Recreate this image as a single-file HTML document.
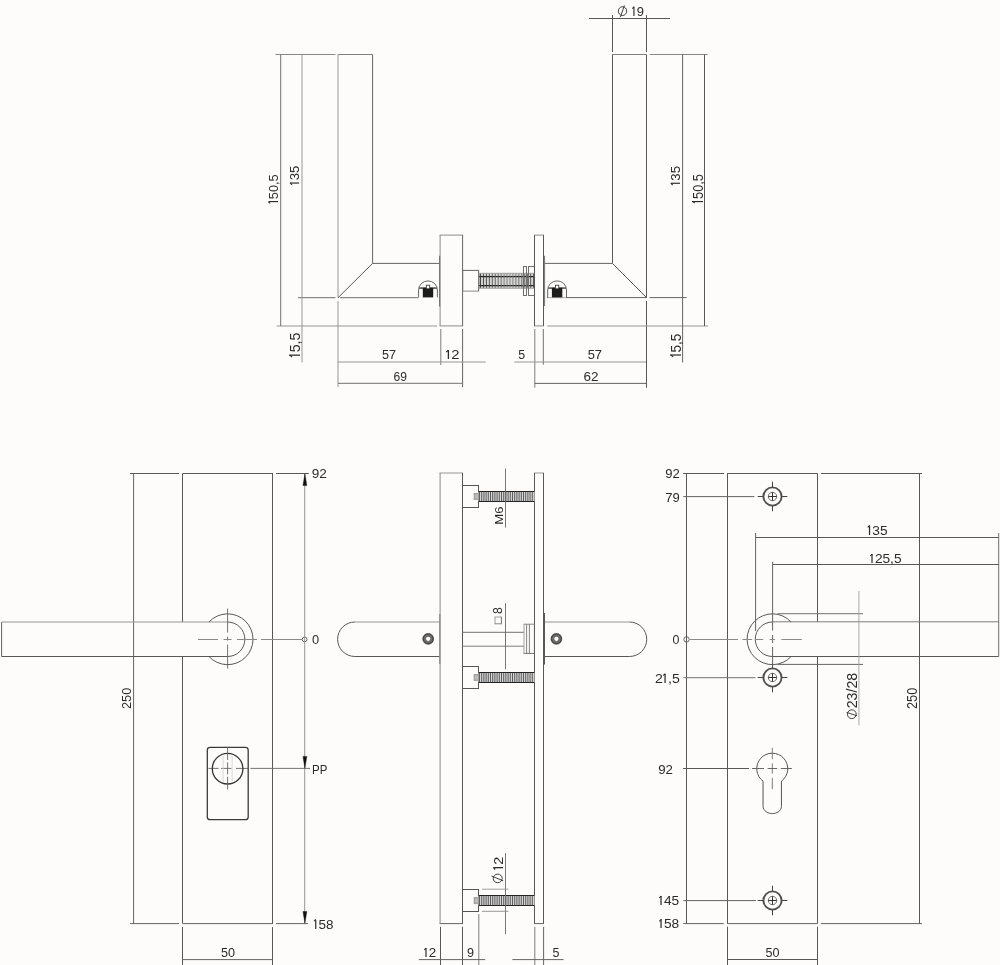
<!DOCTYPE html>
<html><head><meta charset="utf-8"><style>
html,body{margin:0;padding:0;background:#fdfcfa;}
svg{display:block;}
text{font-family:"Liberation Sans",sans-serif;}
svg{will-change:transform;}
</style></head><body>
<svg width="1000" height="965" viewBox="0 0 1000 965">
<rect x="0" y="0" width="1000" height="965" fill="#fdfcfa"/>
<g stroke-linecap="butt">
<line x1="275.5" y1="54.5" x2="335.5" y2="54.5" stroke="#888888" stroke-width="1"/>
<line x1="338" y1="54.5" x2="372.6" y2="54.5" stroke="#808080" stroke-width="1"/>
<line x1="338" y1="54.5" x2="338" y2="297.7" stroke="#979696" stroke-width="1"/>
<line x1="338" y1="301" x2="338" y2="387" stroke="#979696" stroke-width="1"/>
<line x1="372.6" y1="54.5" x2="372.6" y2="263.4" stroke="#656464" stroke-width="1"/>
<line x1="372.6" y1="263.4" x2="439.5" y2="263.4" stroke="#656464" stroke-width="1"/>
<line x1="338" y1="297.7" x2="372.6" y2="263.4" stroke="#585858" stroke-width="1"/>
<line x1="298" y1="297.7" x2="335.5" y2="297.7" stroke="#717171" stroke-width="1"/>
<line x1="340" y1="297.7" x2="418.5" y2="297.7" stroke="#717171" stroke-width="1"/>
<line x1="276.5" y1="326" x2="437" y2="326" stroke="#979696" stroke-width="1"/>
<line x1="280.7" y1="54.5" x2="280.7" y2="326" stroke="#717171" stroke-width="1"/>
<line x1="302" y1="54.5" x2="302" y2="362.4" stroke="#979696" stroke-width="1"/>
<line x1="439.6" y1="235.1" x2="463.1" y2="235.1" stroke="#8a8a89" stroke-width="1"/>
<line x1="439.6" y1="325.9" x2="463.1" y2="325.9" stroke="#8a8a89" stroke-width="1"/>
<line x1="440.1" y1="235.1" x2="440.1" y2="325.9" stroke="#8a8a89" stroke-width="1"/>
<line x1="462.6" y1="235.1" x2="462.6" y2="325.9" stroke="#656464" stroke-width="1"/>
<line x1="439.6" y1="255.8" x2="439.6" y2="306.5" stroke="#656464" stroke-width="0.9"/>
<line x1="440.8" y1="329" x2="440.8" y2="365" stroke="#7e7d7d" stroke-width="1"/>
<line x1="462.6" y1="329" x2="462.6" y2="387.2" stroke="#656464" stroke-width="1"/>
<line x1="338" y1="362" x2="485.7" y2="362" stroke="#979696" stroke-width="1"/>
<line x1="338" y1="383.3" x2="462.6" y2="383.3" stroke="#717171" stroke-width="1"/>
<line x1="462.2" y1="270.4" x2="479.1" y2="270.4" stroke="#656464" stroke-width="1"/>
<line x1="462.2" y1="291.1" x2="479.1" y2="291.1" stroke="#8a8a89" stroke-width="1"/>
<line x1="462.7" y1="270.4" x2="462.7" y2="291.1" stroke="#717171" stroke-width="1"/>
<line x1="478.6" y1="270.4" x2="478.6" y2="291.1" stroke="#656464" stroke-width="1"/>
<rect x="479.3" y="273.3" width="55.2" height="15" fill="#d6d6d6"/>
<line x1="478.85" y1="273.3" x2="534.95" y2="273.3" stroke="#9a9a99" stroke-width="0.9"/>
<line x1="478.85" y1="288.3" x2="534.95" y2="288.3" stroke="#9a9a99" stroke-width="0.9"/>
<line x1="479.3" y1="273.3" x2="479.3" y2="288.3" stroke="#9a9a99" stroke-width="0.9"/>
<line x1="534.5" y1="273.3" x2="534.5" y2="288.3" stroke="#888888" stroke-width="0.9"/>
<line x1="479.3" y1="276.6" x2="534.5" y2="276.6" stroke="#1e1e1e" stroke-width="1.1"/>
<line x1="479.3" y1="285.6" x2="534.5" y2="285.6" stroke="#1e1e1e" stroke-width="1.1"/>
<line x1="480.5" y1="273.8" x2="480.5" y2="287.8" stroke="#333333" stroke-width="0.9"/>
<line x1="483.45" y1="273.8" x2="483.45" y2="287.8" stroke="#3b3b3b" stroke-width="0.9"/>
<line x1="486.4" y1="273.8" x2="486.4" y2="287.8" stroke="#424242" stroke-width="0.9"/>
<line x1="489.35" y1="273.8" x2="489.35" y2="287.8" stroke="#4a4a4a" stroke-width="0.9"/>
<line x1="492.3" y1="273.8" x2="492.3" y2="287.8" stroke="#525251" stroke-width="0.9"/>
<line x1="495.25" y1="273.8" x2="495.25" y2="287.8" stroke="#595959" stroke-width="0.9"/>
<line x1="498.2" y1="273.8" x2="498.2" y2="287.8" stroke="#616160" stroke-width="0.9"/>
<line x1="501.15" y1="273.8" x2="501.15" y2="287.8" stroke="#696868" stroke-width="0.9"/>
<line x1="504.1" y1="273.8" x2="504.1" y2="287.8" stroke="#70706f" stroke-width="0.9"/>
<line x1="507.05" y1="273.8" x2="507.05" y2="287.8" stroke="#787877" stroke-width="0.9"/>
<line x1="510" y1="273.8" x2="510" y2="287.8" stroke="#807f7f" stroke-width="0.9"/>
<line x1="512.95" y1="273.8" x2="512.95" y2="287.8" stroke="#787877" stroke-width="0.9"/>
<line x1="515.9" y1="273.8" x2="515.9" y2="287.8" stroke="#70706f" stroke-width="0.9"/>
<line x1="518.85" y1="273.8" x2="518.85" y2="287.8" stroke="#696868" stroke-width="0.9"/>
<line x1="521.8" y1="273.8" x2="521.8" y2="287.8" stroke="#616160" stroke-width="0.9"/>
<line x1="524.75" y1="273.8" x2="524.75" y2="287.8" stroke="#595959" stroke-width="0.9"/>
<line x1="527.7" y1="273.8" x2="527.7" y2="287.8" stroke="#525251" stroke-width="0.9"/>
<line x1="530.65" y1="273.8" x2="530.65" y2="287.8" stroke="#4a4a4a" stroke-width="0.9"/>
<line x1="533.6" y1="273.8" x2="533.6" y2="287.8" stroke="#424242" stroke-width="0.9"/>
<line x1="523" y1="266.5" x2="527" y2="266.5" stroke="#707070" stroke-width="1"/>
<line x1="523" y1="295.5" x2="527" y2="295.5" stroke="#707070" stroke-width="1"/>
<line x1="523.5" y1="266.5" x2="523.5" y2="295.5" stroke="#707070" stroke-width="1"/>
<line x1="526.5" y1="266.5" x2="526.5" y2="295.5" stroke="#707070" stroke-width="1"/>
<line x1="528" y1="266.5" x2="535" y2="266.5" stroke="#707070" stroke-width="1"/>
<line x1="528" y1="295.5" x2="535" y2="295.5" stroke="#707070" stroke-width="1"/>
<line x1="528.5" y1="266.5" x2="528.5" y2="295.5" stroke="#707070" stroke-width="1"/>
<line x1="534.5" y1="266.5" x2="534.5" y2="295.5" stroke="#707070" stroke-width="1"/>
<line x1="534" y1="235.1" x2="544" y2="235.1" stroke="#8a8a89" stroke-width="1"/>
<line x1="534" y1="325.9" x2="544" y2="325.9" stroke="#8a8a89" stroke-width="1"/>
<line x1="534.5" y1="235.1" x2="534.5" y2="325.9" stroke="#585858" stroke-width="1"/>
<line x1="543.5" y1="235.1" x2="543.5" y2="325.9" stroke="#585858" stroke-width="1"/>
<line x1="544.6" y1="255.8" x2="544.6" y2="306" stroke="#656464" stroke-width="0.9"/>
<line x1="534.8" y1="329" x2="534.8" y2="387.8" stroke="#7e7d7d" stroke-width="1"/>
<line x1="543.3" y1="329" x2="543.3" y2="364.7" stroke="#717171" stroke-width="1"/>
<line x1="514.3" y1="362" x2="646.3" y2="362" stroke="#979696" stroke-width="1"/>
<line x1="534.8" y1="383.4" x2="646.3" y2="383.4" stroke="#656464" stroke-width="1"/>
<line x1="612.5" y1="15" x2="612.5" y2="52" stroke="#585858" stroke-width="1"/>
<line x1="612.5" y1="54.4" x2="612.5" y2="263.4" stroke="#585858" stroke-width="1"/>
<line x1="646.5" y1="15" x2="646.5" y2="52" stroke="#585858" stroke-width="1"/>
<line x1="646.5" y1="54.4" x2="646.5" y2="297.6" stroke="#585858" stroke-width="1"/>
<line x1="646.5" y1="301" x2="646.5" y2="387.8" stroke="#585858" stroke-width="1"/>
<line x1="612.5" y1="54.5" x2="646.5" y2="54.5" stroke="#808080" stroke-width="1"/>
<line x1="649.8" y1="54.5" x2="707.7" y2="54.5" stroke="#888888" stroke-width="1"/>
<line x1="544.7" y1="263.4" x2="612.5" y2="263.4" stroke="#656464" stroke-width="1"/>
<line x1="612.5" y1="263.4" x2="646.5" y2="297.6" stroke="#585858" stroke-width="1"/>
<line x1="547" y1="297.6" x2="646.5" y2="297.6" stroke="#656464" stroke-width="1"/>
<line x1="649.6" y1="297.6" x2="686.6" y2="297.6" stroke="#656464" stroke-width="1"/>
<line x1="547.3" y1="326" x2="708" y2="326" stroke="#979696" stroke-width="1"/>
<line x1="682.6" y1="54.4" x2="682.6" y2="362.5" stroke="#656464" stroke-width="1"/>
<line x1="704.5" y1="54.4" x2="704.5" y2="326" stroke="#585858" stroke-width="1"/>
<line x1="589" y1="18.5" x2="670" y2="18.5" stroke="#585858" stroke-width="1"/>
<path d="M418.6,297.4 L418.6,289.9 A9.4,9 0 0 1 437.4,289.9 L437.4,297.4" fill="#fdfcfa" stroke="#555" stroke-width="0.9"/>
<rect x="419.1" y="287.2" width="17.8" height="1.8" fill="#6a6a6a"/>
<rect x="422.8" y="287.8" width="10.4" height="9.6" fill="#1c1c1c"/>
<rect x="426.3" y="285.2" width="3.4" height="3.6" fill="#fff" stroke="#333" stroke-width="0.8"/>
<path d="M547.7,297.4 L547.7,289.9 A9.4,9 0 0 1 566.5,289.9 L566.5,297.4" fill="#fdfcfa" stroke="#555" stroke-width="0.9"/>
<rect x="548.2" y="287.2" width="17.8" height="1.8" fill="#6a6a6a"/>
<rect x="551.9" y="287.8" width="10.4" height="9.6" fill="#1c1c1c"/>
<rect x="555.4" y="285.2" width="3.4" height="3.6" fill="#fff" stroke="#333" stroke-width="0.8"/>
<g transform="translate(277.8,203.12) rotate(-90) scale(0.1276,0.1357)"><text font-size="100" fill="#2b2b2b"><tspan dx="0">l</tspan><tspan dx="9">5</tspan>0,5</text><path d="M12.0,-71 L-2.0,-56" stroke="#2b2b2b" stroke-width="8" fill="none"/></g>
<g transform="translate(299.2,184.5) rotate(-90) scale(0.1326,0.1286)"><text font-size="100" fill="#2b2b2b"><tspan dx="0">l</tspan><tspan dx="9">3</tspan>5</text><path d="M12.0,-71 L-2.0,-56" stroke="#2b2b2b" stroke-width="8" fill="none"/></g>
<ellipse cx="622.5" cy="11.1" rx="4.2" ry="4.4" fill="none" stroke="#2b2b2b" stroke-width="0.9"/>
<line x1="620.4" y1="17.2" x2="624.4" y2="5.4" stroke="#2b2b2b" stroke-width="0.9"/>
<g transform="translate(632.59,15.8) scale(0.1294,0.1286)"><text font-size="100" fill="#2b2b2b"><tspan dx="0">l</tspan><tspan dx="9">9</tspan></text><path d="M12.0,-71 L-2.0,-56" stroke="#2b2b2b" stroke-width="8" fill="none"/></g>
<g transform="translate(680.2,184.8) rotate(-90) scale(0.1333,0.1329)"><text font-size="100" fill="#2b2b2b"><tspan dx="0">l</tspan><tspan dx="9">3</tspan>5</text><path d="M12.0,-71 L-2.0,-56" stroke="#2b2b2b" stroke-width="8" fill="none"/></g>
<g transform="translate(702.6,202.92) rotate(-90) scale(0.1280,0.1400)"><text font-size="100" fill="#2b2b2b"><tspan dx="0">l</tspan><tspan dx="9">5</tspan>0,5</text><path d="M12.0,-71 L-2.0,-56" stroke="#2b2b2b" stroke-width="8" fill="none"/></g>
<g transform="translate(299.8,356.77) rotate(-90) scale(0.1420,0.1400)"><text font-size="100" fill="#2b2b2b"><tspan dx="0">l</tspan><tspan dx="9">5</tspan>,5</text><path d="M12.0,-71 L-2.0,-56" stroke="#2b2b2b" stroke-width="8" fill="none"/></g>
<g transform="translate(382.1,359.2) scale(0.1255,0.1271)"><text font-size="100" fill="#2b2b2b">57</text></g>
<g transform="translate(446.64,359.2) scale(0.1482,0.1271)"><text font-size="100" fill="#2b2b2b"><tspan dx="0">l</tspan><tspan dx="9">2</tspan></text><path d="M12.0,-71 L-2.0,-56" stroke="#2b2b2b" stroke-width="8" fill="none"/></g>
<g transform="translate(393.6,380.6) scale(0.1208,0.1271)"><text font-size="100" fill="#2b2b2b">69</text></g>
<g transform="translate(518.31,358.9) scale(0.1234,0.1214)"><text font-size="100" fill="#2b2b2b">5</text></g>
<g transform="translate(587.68,358.9) scale(0.1294,0.1214)"><text font-size="100" fill="#2b2b2b">57</text></g>
<g transform="translate(583.53,380.6) scale(0.1347,0.1314)"><text font-size="100" fill="#2b2b2b">62</text></g>
<g transform="translate(680.8,356.6) rotate(-90) scale(0.1349,0.1371)"><text font-size="100" fill="#2b2b2b"><tspan dx="0">l</tspan><tspan dx="9">5</tspan>,5</text><path d="M12.0,-71 L-2.0,-56" stroke="#2b2b2b" stroke-width="8" fill="none"/></g>
<line x1="130" y1="473.5" x2="179" y2="473.5" stroke="#585858" stroke-width="1"/>
<line x1="182.7" y1="473.5" x2="273" y2="473.5" stroke="#585858" stroke-width="1"/>
<line x1="276" y1="473.5" x2="308.8" y2="473.5" stroke="#585858" stroke-width="1"/>
<line x1="130" y1="923.6" x2="179" y2="923.6" stroke="#656464" stroke-width="1"/>
<line x1="182.7" y1="923.6" x2="273" y2="923.6" stroke="#656464" stroke-width="1"/>
<line x1="276" y1="923.6" x2="308" y2="923.6" stroke="#656464" stroke-width="1"/>
<line x1="133.6" y1="473.5" x2="133.6" y2="923.6" stroke="#656464" stroke-width="1"/>
<line x1="182.5" y1="473.5" x2="182.5" y2="622" stroke="#585858" stroke-width="1"/>
<line x1="182.5" y1="656.5" x2="182.5" y2="923.6" stroke="#585858" stroke-width="1"/>
<line x1="182.5" y1="927" x2="182.5" y2="965" stroke="#585858" stroke-width="1"/>
<line x1="272.5" y1="473.5" x2="272.5" y2="923.6" stroke="#585858" stroke-width="1"/>
<line x1="272.5" y1="927" x2="272.5" y2="965" stroke="#585858" stroke-width="1"/>
<line x1="1.6" y1="622" x2="227.6" y2="622" stroke="#979696" stroke-width="1"/>
<line x1="1.6" y1="656.5" x2="227.6" y2="656.5" stroke="#585858" stroke-width="1"/>
<line x1="1.6" y1="622" x2="1.6" y2="656.5" stroke="#656464" stroke-width="1"/>
<path d="M227.6,622 A17.25,17.25 0 0 1 227.6,656.5" fill="none" stroke="#585858" stroke-width="1"/>
<path d="M208.96,622 A25.4,25.4 0 1 1 208.96,656.5" fill="none" stroke="#585858" stroke-width="1"/>
<line x1="227.6" y1="608.6" x2="227.6" y2="669.4" stroke="#656464" stroke-width="0.9" stroke-dasharray="24,4,4,4"/>
<line x1="198" y1="639.5" x2="218" y2="639.5" stroke="#8a8a8a" stroke-width="1"/>
<line x1="223.6" y1="639.5" x2="231.6" y2="639.5" stroke="#8a8a8a" stroke-width="1"/>
<line x1="237" y1="639.5" x2="257" y2="639.5" stroke="#8a8a8a" stroke-width="1"/>
<line x1="261" y1="639.5" x2="302" y2="639.5" stroke="#8a8a8a" stroke-width="1"/>
<circle cx="304.6" cy="639.4" r="2.4" fill="none" stroke="#585858" stroke-width="0.9"/>
<line x1="304.7" y1="473.5" x2="304.7" y2="923.6" stroke="#8b8b8b" stroke-width="0.9"/>
<path d="M304.9,473.8 L306.85,485.6 L302.95,485.6 Z" fill="#111" stroke="#111" stroke-width="0.4" stroke-linejoin="round"/>
<path d="M304.9,768.4 L306.85,756.4 L302.95,756.4 Z" fill="#111" stroke="#111" stroke-width="0.4" stroke-linejoin="round"/>
<path d="M304.9,923.3 L306.85,911.5 L302.95,911.5 Z" fill="#111" stroke="#111" stroke-width="0.4" stroke-linejoin="round"/>
<line x1="208.4" y1="768.4" x2="218.6" y2="768.4" stroke="#656464" stroke-width="0.9"/>
<line x1="221" y1="768.4" x2="231.5" y2="768.4" stroke="#656464" stroke-width="0.9"/>
<line x1="236" y1="768.4" x2="248.2" y2="768.4" stroke="#656464" stroke-width="0.9"/>
<line x1="250.4" y1="768.4" x2="310" y2="768.4" stroke="#656464" stroke-width="0.9"/>
<rect x="207.3" y="747.4" width="40.9" height="72.3" rx="2.8" fill="none" stroke="#3a3a3a" stroke-width="1.3"/>
<circle cx="227.6" cy="768.7" r="15.3" fill="none" stroke="#333" stroke-width="1.3"/>
<line x1="223.1" y1="755.8" x2="223.1" y2="781.9" stroke="#cfcfce" stroke-width="0.8"/>
<line x1="232.1" y1="755.8" x2="232.1" y2="781.9" stroke="#cfcfce" stroke-width="0.8"/>
<line x1="227.6" y1="747.4" x2="227.6" y2="760" stroke="#656464" stroke-width="0.9"/>
<line x1="227.6" y1="762.4" x2="227.6" y2="774.4" stroke="#656464" stroke-width="0.9"/>
<line x1="227.6" y1="776.8" x2="227.6" y2="789.4" stroke="#656464" stroke-width="0.9"/>
<line x1="182.5" y1="959.6" x2="272.5" y2="959.6" stroke="#656464" stroke-width="1"/>
<g transform="translate(311.82,478) scale(0.1356,0.1257)"><text font-size="100" fill="#2b2b2b">92</text></g>
<g transform="translate(312.08,643.8) scale(0.1292,0.1229)"><text font-size="100" fill="#2b2b2b">0</text></g>
<g transform="translate(131.4,709.04) rotate(-90) scale(0.1278,0.1371)"><text font-size="100" fill="#2b2b2b">250</text></g>
<g transform="translate(312.08,773.6) scale(0.1150,0.1329)"><text font-size="100" fill="#2b2b2b">PP</text></g>
<g transform="translate(314.2,928.7) scale(0.1348,0.1329)"><text font-size="100" fill="#2b2b2b"><tspan dx="0">l</tspan><tspan dx="9">5</tspan>8</text><path d="M12.0,-71 L-2.0,-56" stroke="#2b2b2b" stroke-width="8" fill="none"/></g>
<g transform="translate(220.9,957) scale(0.1262,0.1243)"><text font-size="100" fill="#2b2b2b">50</text></g>
<line x1="439.6" y1="473" x2="463" y2="473" stroke="#979696" stroke-width="1"/>
<line x1="439.6" y1="923.6" x2="463" y2="923.6" stroke="#656464" stroke-width="1"/>
<line x1="440.1" y1="473" x2="440.1" y2="923.6" stroke="#8a8a89" stroke-width="1"/>
<line x1="462.5" y1="473" x2="462.5" y2="923.6" stroke="#585858" stroke-width="1"/>
<line x1="534" y1="473" x2="544" y2="473" stroke="#979696" stroke-width="1"/>
<line x1="534" y1="923.6" x2="544" y2="923.6" stroke="#656464" stroke-width="1"/>
<line x1="534.5" y1="473" x2="534.5" y2="923.6" stroke="#585858" stroke-width="1"/>
<line x1="543.5" y1="473" x2="543.5" y2="923.6" stroke="#585858" stroke-width="1"/>
<line x1="354.85" y1="622" x2="439.3" y2="622" stroke="#979696" stroke-width="1"/>
<line x1="354.85" y1="656.5" x2="439.3" y2="656.5" stroke="#585858" stroke-width="1"/>
<path d="M354.85,622 A17.25,17.25 0 0 0 354.85,656.5" fill="none" stroke="#585858" stroke-width="1"/>
<line x1="439.8" y1="614" x2="439.8" y2="664" stroke="#7e7d7d" stroke-width="1"/>
<line x1="544.5" y1="622" x2="629.5" y2="622" stroke="#979696" stroke-width="1"/>
<line x1="544.5" y1="656.5" x2="629.5" y2="656.5" stroke="#585858" stroke-width="1"/>
<path d="M629.5,622 A17.25,17.25 0 0 1 629.5,656.5" fill="none" stroke="#585858" stroke-width="1"/>
<line x1="544.5" y1="613" x2="544.5" y2="664.6" stroke="#585858" stroke-width="1"/>
<circle cx="428.2" cy="638.8" r="4" fill="none" stroke="#6c6c6c" stroke-width="3.8"/>
<circle cx="428.2" cy="638.8" r="4.9" fill="none" stroke="#3a3a3a" stroke-width="0.9"/>
<circle cx="428.2" cy="638.8" r="1.7" fill="#fdfcfa" stroke="none" stroke-width="0"/>
<circle cx="556.4" cy="638.8" r="4" fill="none" stroke="#6c6c6c" stroke-width="3.8"/>
<circle cx="556.4" cy="638.8" r="4.9" fill="none" stroke="#3a3a3a" stroke-width="0.9"/>
<circle cx="556.4" cy="638.8" r="1.7" fill="#fdfcfa" stroke="none" stroke-width="0"/>
<line x1="462.6" y1="632.3" x2="524" y2="632.3" stroke="#717171" stroke-width="1"/>
<line x1="462.6" y1="646.2" x2="524" y2="646.2" stroke="#7e7d7d" stroke-width="1"/>
<line x1="523.55" y1="624.2" x2="534.85" y2="624.2" stroke="#7e7d7d" stroke-width="0.9"/>
<line x1="523.55" y1="653.4" x2="534.85" y2="653.4" stroke="#656464" stroke-width="0.9"/>
<line x1="524" y1="624.2" x2="524" y2="653.4" stroke="#979696" stroke-width="0.9"/>
<line x1="534.4" y1="624.2" x2="534.4" y2="653.4" stroke="#656464" stroke-width="0.9"/>
<line x1="526.6" y1="624.2" x2="526.6" y2="653.4" stroke="#656464" stroke-width="0.8"/>
<line x1="529.4" y1="624.2" x2="529.4" y2="653.4" stroke="#656464" stroke-width="0.8"/>
<line x1="505.5" y1="603.2" x2="505.5" y2="669.2" stroke="#666666" stroke-width="0.9"/>
<line x1="462" y1="485.5" x2="479" y2="485.5" stroke="#555555" stroke-width="1"/>
<line x1="462" y1="507.5" x2="479" y2="507.5" stroke="#555555" stroke-width="1"/>
<line x1="462.5" y1="485.5" x2="462.5" y2="507.5" stroke="#555555" stroke-width="1"/>
<line x1="478.5" y1="485.5" x2="478.5" y2="507.5" stroke="#555555" stroke-width="1"/>
<rect x="474.2" y="493.7" width="4.3" height="5.6" fill="#bbb"/>
<line x1="473.8" y1="493.7" x2="478.9" y2="493.7" stroke="#7d7d7c" stroke-width="0.8"/>
<line x1="473.8" y1="499.3" x2="478.9" y2="499.3" stroke="#7d7d7c" stroke-width="0.8"/>
<line x1="474.2" y1="493.7" x2="474.2" y2="499.3" stroke="#888888" stroke-width="0.8"/>
<line x1="478.5" y1="493.7" x2="478.5" y2="499.3" stroke="#666666" stroke-width="0.8"/>
<rect x="478.5" y="491.1" width="56" height="10.8" rx="0" fill="#d4d4d4" stroke="none" stroke-width="0"/>
<line x1="478.5" y1="491.5" x2="534.5" y2="491.5" stroke="#222222" stroke-width="1"/>
<line x1="478.5" y1="501.5" x2="534.5" y2="501.5" stroke="#222222" stroke-width="1"/>
<line x1="479.5" y1="491.1" x2="479.5" y2="501.9" stroke="#2a2a2a" stroke-width="0.7"/>
<line x1="481.7" y1="491.1" x2="481.7" y2="501.9" stroke="#2a2a2a" stroke-width="0.7"/>
<line x1="483.9" y1="491.1" x2="483.9" y2="501.9" stroke="#2a2a2a" stroke-width="0.7"/>
<line x1="486.1" y1="491.1" x2="486.1" y2="501.9" stroke="#2a2a2a" stroke-width="0.7"/>
<line x1="488.3" y1="491.1" x2="488.3" y2="501.9" stroke="#2a2a2a" stroke-width="0.7"/>
<line x1="490.5" y1="491.1" x2="490.5" y2="501.9" stroke="#2a2a2a" stroke-width="0.7"/>
<line x1="492.7" y1="491.1" x2="492.7" y2="501.9" stroke="#2a2a2a" stroke-width="0.7"/>
<line x1="494.9" y1="491.1" x2="494.9" y2="501.9" stroke="#2a2a2a" stroke-width="0.7"/>
<line x1="497.1" y1="491.1" x2="497.1" y2="501.9" stroke="#2a2a2a" stroke-width="0.7"/>
<line x1="499.3" y1="491.1" x2="499.3" y2="501.9" stroke="#2a2a2a" stroke-width="0.7"/>
<line x1="501.5" y1="491.1" x2="501.5" y2="501.9" stroke="#2a2a2a" stroke-width="0.7"/>
<line x1="503.7" y1="491.1" x2="503.7" y2="501.9" stroke="#2a2a2a" stroke-width="0.7"/>
<line x1="505.9" y1="491.1" x2="505.9" y2="501.9" stroke="#2a2a2a" stroke-width="0.7"/>
<line x1="508.1" y1="491.1" x2="508.1" y2="501.9" stroke="#2a2a2a" stroke-width="0.7"/>
<line x1="510.3" y1="491.1" x2="510.3" y2="501.9" stroke="#2a2a2a" stroke-width="0.7"/>
<line x1="512.5" y1="491.1" x2="512.5" y2="501.9" stroke="#2a2a2a" stroke-width="0.7"/>
<line x1="514.7" y1="491.1" x2="514.7" y2="501.9" stroke="#2a2a2a" stroke-width="0.7"/>
<line x1="516.9" y1="491.1" x2="516.9" y2="501.9" stroke="#2a2a2a" stroke-width="0.7"/>
<line x1="519.1" y1="491.1" x2="519.1" y2="501.9" stroke="#2a2a2a" stroke-width="0.7"/>
<line x1="521.3" y1="491.1" x2="521.3" y2="501.9" stroke="#2a2a2a" stroke-width="0.7"/>
<line x1="523.5" y1="491.1" x2="523.5" y2="501.9" stroke="#2a2a2a" stroke-width="0.7"/>
<line x1="525.7" y1="491.1" x2="525.7" y2="501.9" stroke="#2a2a2a" stroke-width="0.7"/>
<line x1="527.9" y1="491.1" x2="527.9" y2="501.9" stroke="#2a2a2a" stroke-width="0.7"/>
<line x1="530.1" y1="491.1" x2="530.1" y2="501.9" stroke="#2a2a2a" stroke-width="0.7"/>
<line x1="532.3" y1="491.1" x2="532.3" y2="501.9" stroke="#2a2a2a" stroke-width="0.7"/>
<line x1="462" y1="666.5" x2="479" y2="666.5" stroke="#555555" stroke-width="1"/>
<line x1="462" y1="688.5" x2="479" y2="688.5" stroke="#555555" stroke-width="1"/>
<line x1="462.5" y1="666.5" x2="462.5" y2="688.5" stroke="#555555" stroke-width="1"/>
<line x1="478.5" y1="666.5" x2="478.5" y2="688.5" stroke="#555555" stroke-width="1"/>
<rect x="474.2" y="674.7" width="4.3" height="5.6" fill="#bbb"/>
<line x1="473.8" y1="674.7" x2="478.9" y2="674.7" stroke="#7d7d7c" stroke-width="0.8"/>
<line x1="473.8" y1="680.3" x2="478.9" y2="680.3" stroke="#7d7d7c" stroke-width="0.8"/>
<line x1="474.2" y1="674.7" x2="474.2" y2="680.3" stroke="#888888" stroke-width="0.8"/>
<line x1="478.5" y1="674.7" x2="478.5" y2="680.3" stroke="#666666" stroke-width="0.8"/>
<rect x="478.5" y="672.1" width="56" height="10.8" rx="0" fill="#d4d4d4" stroke="none" stroke-width="0"/>
<line x1="478.5" y1="672.5" x2="534.5" y2="672.5" stroke="#222222" stroke-width="1"/>
<line x1="478.5" y1="682.5" x2="534.5" y2="682.5" stroke="#222222" stroke-width="1"/>
<line x1="479.5" y1="672.1" x2="479.5" y2="682.9" stroke="#2a2a2a" stroke-width="0.7"/>
<line x1="481.7" y1="672.1" x2="481.7" y2="682.9" stroke="#2a2a2a" stroke-width="0.7"/>
<line x1="483.9" y1="672.1" x2="483.9" y2="682.9" stroke="#2a2a2a" stroke-width="0.7"/>
<line x1="486.1" y1="672.1" x2="486.1" y2="682.9" stroke="#2a2a2a" stroke-width="0.7"/>
<line x1="488.3" y1="672.1" x2="488.3" y2="682.9" stroke="#2a2a2a" stroke-width="0.7"/>
<line x1="490.5" y1="672.1" x2="490.5" y2="682.9" stroke="#2a2a2a" stroke-width="0.7"/>
<line x1="492.7" y1="672.1" x2="492.7" y2="682.9" stroke="#2a2a2a" stroke-width="0.7"/>
<line x1="494.9" y1="672.1" x2="494.9" y2="682.9" stroke="#2a2a2a" stroke-width="0.7"/>
<line x1="497.1" y1="672.1" x2="497.1" y2="682.9" stroke="#2a2a2a" stroke-width="0.7"/>
<line x1="499.3" y1="672.1" x2="499.3" y2="682.9" stroke="#2a2a2a" stroke-width="0.7"/>
<line x1="501.5" y1="672.1" x2="501.5" y2="682.9" stroke="#2a2a2a" stroke-width="0.7"/>
<line x1="503.7" y1="672.1" x2="503.7" y2="682.9" stroke="#2a2a2a" stroke-width="0.7"/>
<line x1="505.9" y1="672.1" x2="505.9" y2="682.9" stroke="#2a2a2a" stroke-width="0.7"/>
<line x1="508.1" y1="672.1" x2="508.1" y2="682.9" stroke="#2a2a2a" stroke-width="0.7"/>
<line x1="510.3" y1="672.1" x2="510.3" y2="682.9" stroke="#2a2a2a" stroke-width="0.7"/>
<line x1="512.5" y1="672.1" x2="512.5" y2="682.9" stroke="#2a2a2a" stroke-width="0.7"/>
<line x1="514.7" y1="672.1" x2="514.7" y2="682.9" stroke="#2a2a2a" stroke-width="0.7"/>
<line x1="516.9" y1="672.1" x2="516.9" y2="682.9" stroke="#2a2a2a" stroke-width="0.7"/>
<line x1="519.1" y1="672.1" x2="519.1" y2="682.9" stroke="#2a2a2a" stroke-width="0.7"/>
<line x1="521.3" y1="672.1" x2="521.3" y2="682.9" stroke="#2a2a2a" stroke-width="0.7"/>
<line x1="523.5" y1="672.1" x2="523.5" y2="682.9" stroke="#2a2a2a" stroke-width="0.7"/>
<line x1="525.7" y1="672.1" x2="525.7" y2="682.9" stroke="#2a2a2a" stroke-width="0.7"/>
<line x1="527.9" y1="672.1" x2="527.9" y2="682.9" stroke="#2a2a2a" stroke-width="0.7"/>
<line x1="530.1" y1="672.1" x2="530.1" y2="682.9" stroke="#2a2a2a" stroke-width="0.7"/>
<line x1="532.3" y1="672.1" x2="532.3" y2="682.9" stroke="#2a2a2a" stroke-width="0.7"/>
<line x1="462" y1="889.5" x2="479" y2="889.5" stroke="#555555" stroke-width="1"/>
<line x1="462" y1="911.5" x2="479" y2="911.5" stroke="#555555" stroke-width="1"/>
<line x1="462.5" y1="889.5" x2="462.5" y2="911.5" stroke="#555555" stroke-width="1"/>
<line x1="478.5" y1="889.5" x2="478.5" y2="911.5" stroke="#555555" stroke-width="1"/>
<rect x="474.2" y="897.7" width="4.3" height="5.6" fill="#bbb"/>
<line x1="473.8" y1="897.7" x2="478.9" y2="897.7" stroke="#7d7d7c" stroke-width="0.8"/>
<line x1="473.8" y1="903.3" x2="478.9" y2="903.3" stroke="#7d7d7c" stroke-width="0.8"/>
<line x1="474.2" y1="897.7" x2="474.2" y2="903.3" stroke="#888888" stroke-width="0.8"/>
<line x1="478.5" y1="897.7" x2="478.5" y2="903.3" stroke="#666666" stroke-width="0.8"/>
<rect x="478.5" y="895.1" width="56" height="10.8" rx="0" fill="#d4d4d4" stroke="none" stroke-width="0"/>
<line x1="478.5" y1="895.5" x2="534.5" y2="895.5" stroke="#222222" stroke-width="1"/>
<line x1="478.5" y1="905.5" x2="534.5" y2="905.5" stroke="#222222" stroke-width="1"/>
<line x1="479.5" y1="895.1" x2="479.5" y2="905.9" stroke="#2a2a2a" stroke-width="0.7"/>
<line x1="481.7" y1="895.1" x2="481.7" y2="905.9" stroke="#2a2a2a" stroke-width="0.7"/>
<line x1="483.9" y1="895.1" x2="483.9" y2="905.9" stroke="#2a2a2a" stroke-width="0.7"/>
<line x1="486.1" y1="895.1" x2="486.1" y2="905.9" stroke="#2a2a2a" stroke-width="0.7"/>
<line x1="488.3" y1="895.1" x2="488.3" y2="905.9" stroke="#2a2a2a" stroke-width="0.7"/>
<line x1="490.5" y1="895.1" x2="490.5" y2="905.9" stroke="#2a2a2a" stroke-width="0.7"/>
<line x1="492.7" y1="895.1" x2="492.7" y2="905.9" stroke="#2a2a2a" stroke-width="0.7"/>
<line x1="494.9" y1="895.1" x2="494.9" y2="905.9" stroke="#2a2a2a" stroke-width="0.7"/>
<line x1="497.1" y1="895.1" x2="497.1" y2="905.9" stroke="#2a2a2a" stroke-width="0.7"/>
<line x1="499.3" y1="895.1" x2="499.3" y2="905.9" stroke="#2a2a2a" stroke-width="0.7"/>
<line x1="501.5" y1="895.1" x2="501.5" y2="905.9" stroke="#2a2a2a" stroke-width="0.7"/>
<line x1="503.7" y1="895.1" x2="503.7" y2="905.9" stroke="#2a2a2a" stroke-width="0.7"/>
<line x1="505.9" y1="895.1" x2="505.9" y2="905.9" stroke="#2a2a2a" stroke-width="0.7"/>
<line x1="508.1" y1="895.1" x2="508.1" y2="905.9" stroke="#2a2a2a" stroke-width="0.7"/>
<line x1="510.3" y1="895.1" x2="510.3" y2="905.9" stroke="#2a2a2a" stroke-width="0.7"/>
<line x1="512.5" y1="895.1" x2="512.5" y2="905.9" stroke="#2a2a2a" stroke-width="0.7"/>
<line x1="514.7" y1="895.1" x2="514.7" y2="905.9" stroke="#2a2a2a" stroke-width="0.7"/>
<line x1="516.9" y1="895.1" x2="516.9" y2="905.9" stroke="#2a2a2a" stroke-width="0.7"/>
<line x1="519.1" y1="895.1" x2="519.1" y2="905.9" stroke="#2a2a2a" stroke-width="0.7"/>
<line x1="521.3" y1="895.1" x2="521.3" y2="905.9" stroke="#2a2a2a" stroke-width="0.7"/>
<line x1="523.5" y1="895.1" x2="523.5" y2="905.9" stroke="#2a2a2a" stroke-width="0.7"/>
<line x1="525.7" y1="895.1" x2="525.7" y2="905.9" stroke="#2a2a2a" stroke-width="0.7"/>
<line x1="527.9" y1="895.1" x2="527.9" y2="905.9" stroke="#2a2a2a" stroke-width="0.7"/>
<line x1="530.1" y1="895.1" x2="530.1" y2="905.9" stroke="#2a2a2a" stroke-width="0.7"/>
<line x1="532.3" y1="895.1" x2="532.3" y2="905.9" stroke="#2a2a2a" stroke-width="0.7"/>
<line x1="505.5" y1="468.5" x2="505.5" y2="527.6" stroke="#666666" stroke-width="0.9"/>
<line x1="505.5" y1="853.2" x2="505.5" y2="934" stroke="#666666" stroke-width="0.9"/>
<line x1="482" y1="889.2" x2="508.4" y2="889.2" stroke="#969595" stroke-width="0.9"/>
<line x1="482" y1="911.3" x2="508.4" y2="911.3" stroke="#8b8b8b" stroke-width="0.9"/>
<line x1="440.5" y1="926.8" x2="440.5" y2="965" stroke="#585858" stroke-width="1"/>
<line x1="462.5" y1="926.8" x2="462.5" y2="965" stroke="#585858" stroke-width="1"/>
<line x1="478.8" y1="914" x2="478.8" y2="965" stroke="#7e7d7d" stroke-width="1"/>
<line x1="534.8" y1="926.8" x2="534.8" y2="965" stroke="#7e7d7d" stroke-width="1"/>
<line x1="543.6" y1="926.8" x2="543.6" y2="965" stroke="#656464" stroke-width="1"/>
<line x1="418.8" y1="959.6" x2="485.2" y2="959.6" stroke="#656464" stroke-width="1"/>
<line x1="512.4" y1="959.6" x2="563.6" y2="959.6" stroke="#656464" stroke-width="1"/>
<g transform="translate(502.8,524.65) rotate(-90) scale(0.1317,0.1143)"><text font-size="100" fill="#2b2b2b">M6</text></g>
<g transform="translate(502.4,614.09) rotate(-90) scale(0.1234,0.1257)"><text font-size="100" fill="#2b2b2b">8</text></g>
<line x1="494.55" y1="617" x2="501.85" y2="617" stroke="#959494" stroke-width="0.9"/>
<line x1="494.55" y1="623.8" x2="501.85" y2="623.8" stroke="#7b7b7b" stroke-width="0.9"/>
<line x1="495" y1="617" x2="495" y2="623.8" stroke="#959494" stroke-width="0.9"/>
<line x1="501.4" y1="617" x2="501.4" y2="623.8" stroke="#626262" stroke-width="0.9"/>
<ellipse cx="497.7" cy="878.4" rx="4.5" ry="4.3" fill="none" stroke="#2b2b2b" stroke-width="0.9"/>
<line x1="503.2" y1="880.8" x2="491.4" y2="876" stroke="#2b2b2b" stroke-width="0.9"/>
<g transform="translate(502.8,869.17) rotate(-90) scale(0.1447,0.1357)"><text font-size="100" fill="#2b2b2b"><tspan dx="0">l</tspan><tspan dx="9">2</tspan></text><path d="M12.0,-71 L-2.0,-56" stroke="#2b2b2b" stroke-width="8" fill="none"/></g>
<g transform="translate(424.6,956.9) scale(0.1341,0.1257)"><text font-size="100" fill="#2b2b2b"><tspan dx="0">l</tspan><tspan dx="9">2</tspan></text><path d="M12.0,-71 L-2.0,-56" stroke="#2b2b2b" stroke-width="8" fill="none"/></g>
<g transform="translate(466.97,957) scale(0.1261,0.1271)"><text font-size="100" fill="#2b2b2b">9</text></g>
<g transform="translate(552.4,957) scale(0.1255,0.1257)"><text font-size="100" fill="#2b2b2b">5</text></g>
<line x1="683.2" y1="473.5" x2="724" y2="473.5" stroke="#585858" stroke-width="1"/>
<line x1="727.2" y1="473.5" x2="817.6" y2="473.5" stroke="#585858" stroke-width="1"/>
<line x1="821" y1="473.5" x2="922" y2="473.5" stroke="#585858" stroke-width="1"/>
<line x1="683.3" y1="923.6" x2="723.8" y2="923.6" stroke="#656464" stroke-width="1"/>
<line x1="727.4" y1="923.6" x2="817.4" y2="923.6" stroke="#656464" stroke-width="1"/>
<line x1="821" y1="923.6" x2="922" y2="923.6" stroke="#656464" stroke-width="1"/>
<line x1="686.5" y1="473.5" x2="686.5" y2="923.6" stroke="#585858" stroke-width="1"/>
<circle cx="686.5" cy="639.4" r="2.7" fill="none" stroke="#585858" stroke-width="0.9"/>
<line x1="727.5" y1="473.5" x2="727.5" y2="923.6" stroke="#585858" stroke-width="1"/>
<line x1="727.5" y1="926.7" x2="727.5" y2="965" stroke="#585858" stroke-width="1"/>
<line x1="817.5" y1="473.5" x2="817.5" y2="622" stroke="#585858" stroke-width="1"/>
<line x1="817.5" y1="656.5" x2="817.5" y2="923.6" stroke="#585858" stroke-width="1"/>
<line x1="817.5" y1="926.7" x2="817.5" y2="965" stroke="#585858" stroke-width="1"/>
<line x1="919.5" y1="473.5" x2="919.5" y2="923.6" stroke="#585858" stroke-width="1"/>
<line x1="727.4" y1="959.5" x2="817.4" y2="959.5" stroke="#585858" stroke-width="1"/>
<circle cx="772.5" cy="496.5" r="9.1" fill="none" stroke="#505050" stroke-width="1.9"/>
<circle cx="772.5" cy="496.5" r="4.2" fill="none" stroke="#666" stroke-width="0.9"/>
<line x1="772.5" y1="481.7" x2="772.5" y2="487.4" stroke="#444444" stroke-width="1"/>
<line x1="772.5" y1="505.6" x2="772.5" y2="511.3" stroke="#444444" stroke-width="1"/>
<line x1="757.7" y1="496.5" x2="763.4" y2="496.5" stroke="#444444" stroke-width="1"/>
<line x1="781.6" y1="496.5" x2="787.3" y2="496.5" stroke="#444444" stroke-width="1"/>
<line x1="772.5" y1="492.3" x2="772.5" y2="500.7" stroke="#333333" stroke-width="1"/>
<line x1="768.3" y1="496.5" x2="776.7" y2="496.5" stroke="#333333" stroke-width="1"/>
<circle cx="772.5" cy="677.5" r="9.1" fill="none" stroke="#505050" stroke-width="1.9"/>
<circle cx="772.5" cy="677.5" r="4.2" fill="none" stroke="#666" stroke-width="0.9"/>
<line x1="772.5" y1="662.7" x2="772.5" y2="668.4" stroke="#444444" stroke-width="1"/>
<line x1="772.5" y1="686.6" x2="772.5" y2="692.3" stroke="#444444" stroke-width="1"/>
<line x1="757.7" y1="677.5" x2="763.4" y2="677.5" stroke="#444444" stroke-width="1"/>
<line x1="781.6" y1="677.5" x2="787.3" y2="677.5" stroke="#444444" stroke-width="1"/>
<line x1="772.5" y1="673.3" x2="772.5" y2="681.7" stroke="#333333" stroke-width="1"/>
<line x1="768.3" y1="677.5" x2="776.7" y2="677.5" stroke="#333333" stroke-width="1"/>
<circle cx="772.5" cy="900.5" r="9.1" fill="none" stroke="#505050" stroke-width="1.9"/>
<circle cx="772.5" cy="900.5" r="4.2" fill="none" stroke="#666" stroke-width="0.9"/>
<line x1="772.5" y1="885.7" x2="772.5" y2="891.4" stroke="#444444" stroke-width="1"/>
<line x1="772.5" y1="909.6" x2="772.5" y2="915.3" stroke="#444444" stroke-width="1"/>
<line x1="757.7" y1="900.5" x2="763.4" y2="900.5" stroke="#444444" stroke-width="1"/>
<line x1="781.6" y1="900.5" x2="787.3" y2="900.5" stroke="#444444" stroke-width="1"/>
<line x1="772.5" y1="896.3" x2="772.5" y2="904.7" stroke="#333333" stroke-width="1"/>
<line x1="768.3" y1="900.5" x2="776.7" y2="900.5" stroke="#333333" stroke-width="1"/>
<line x1="683.2" y1="496.6" x2="754.4" y2="496.6" stroke="#656464" stroke-width="1"/>
<line x1="683.3" y1="677.7" x2="755.4" y2="677.7" stroke="#717171" stroke-width="1"/>
<line x1="683.3" y1="900.6" x2="756" y2="900.6" stroke="#656464" stroke-width="1"/>
<line x1="683" y1="768.5" x2="749" y2="768.5" stroke="#585858" stroke-width="1"/>
<line x1="772.5" y1="621.8" x2="998.7" y2="621.8" stroke="#7e7d7d" stroke-width="1"/>
<line x1="772.5" y1="656.5" x2="998.7" y2="656.5" stroke="#585858" stroke-width="1"/>
<line x1="998.7" y1="622" x2="998.7" y2="656.5" stroke="#717171" stroke-width="1"/>
<path d="M772.5,622 A17.25,17.25 0 0 0 772.5,656.5" fill="none" stroke="#585858" stroke-width="1"/>
<path d="M791.14,622 A25.4,25.4 0 1 0 791.14,656.5" fill="none" stroke="#585858" stroke-width="1"/>
<line x1="777.5" y1="613.7" x2="863" y2="613.7" stroke="#717171" stroke-width="1"/>
<line x1="777.5" y1="664.4" x2="863" y2="664.4" stroke="#656464" stroke-width="1"/>
<line x1="858.9" y1="591" x2="858.9" y2="725.4" stroke="#a09f9f" stroke-width="0.9"/>
<line x1="755.6" y1="537.5" x2="998.7" y2="537.5" stroke="#585858" stroke-width="1"/>
<line x1="755.6" y1="533" x2="755.6" y2="631" stroke="#656464" stroke-width="1"/>
<line x1="998.7" y1="533" x2="998.7" y2="622" stroke="#717171" stroke-width="1"/>
<line x1="772.5" y1="564.5" x2="998.7" y2="564.5" stroke="#585858" stroke-width="1"/>
<line x1="772.6" y1="561.8" x2="772.6" y2="630.5" stroke="#656464" stroke-width="1"/>
<line x1="772.6" y1="635" x2="772.6" y2="643" stroke="#656464" stroke-width="1"/>
<line x1="772.6" y1="647" x2="772.6" y2="667" stroke="#656464" stroke-width="1"/>
<line x1="690" y1="639.5" x2="738" y2="639.5" stroke="#8a8a8a" stroke-width="1"/>
<line x1="742.4" y1="639.5" x2="752.2" y2="639.5" stroke="#8a8a8a" stroke-width="1"/>
<line x1="755.4" y1="639.5" x2="763.2" y2="639.5" stroke="#8a8a8a" stroke-width="1"/>
<line x1="769.7" y1="639.5" x2="775" y2="639.5" stroke="#8a8a8a" stroke-width="1"/>
<line x1="781.4" y1="639.5" x2="801.8" y2="639.5" stroke="#8a8a8a" stroke-width="1"/>
<path d="M763.05,781.17 A15.5,15.5 0 1 1 781.45,781.17 L781.45,806.4 C781.45,811 776.25,813.6 772.25,813.6 C768.25,813.6 763.05,811 763.05,806.4 Z" fill="none" stroke="#555" stroke-width="1"/>
<line x1="772.3" y1="747.8" x2="772.3" y2="759.2" stroke="#717171" stroke-width="0.9"/>
<line x1="772.3" y1="763.4" x2="772.3" y2="773.6" stroke="#717171" stroke-width="0.9"/>
<line x1="772.3" y1="777.8" x2="772.3" y2="789.2" stroke="#717171" stroke-width="0.9"/>
<line x1="752" y1="768.5" x2="764" y2="768.5" stroke="#585858" stroke-width="0.9"/>
<line x1="767.6" y1="768.5" x2="777.2" y2="768.5" stroke="#585858" stroke-width="0.9"/>
<line x1="780.8" y1="768.5" x2="791.9" y2="768.5" stroke="#585858" stroke-width="0.9"/>
<g transform="translate(665.15,478.2) scale(0.1307,0.1243)"><text font-size="100" fill="#2b2b2b">92</text></g>
<g transform="translate(665.15,501.6) scale(0.1307,0.1329)"><text font-size="100" fill="#2b2b2b">79</text></g>
<g transform="translate(868.01,534.5) scale(0.1376,0.1286)"><text font-size="100" fill="#2b2b2b"><tspan dx="0">l</tspan><tspan dx="9">3</tspan>5</text><path d="M12.0,-71 L-2.0,-56" stroke="#2b2b2b" stroke-width="8" fill="none"/></g>
<g transform="translate(870.61,563.2) scale(0.1369,0.1286)"><text font-size="100" fill="#2b2b2b"><tspan dx="0">l</tspan><tspan dx="9">2</tspan>5,5</text><path d="M12.0,-71 L-2.0,-56" stroke="#2b2b2b" stroke-width="8" fill="none"/></g>
<g transform="translate(672.5,643.8) scale(0.1250,0.1229)"><text font-size="100" fill="#2b2b2b">0</text></g>
<g transform="translate(654.89,682.6) scale(0.1413,0.1257)"><text font-size="100" fill="#2b2b2b">2<tspan dx="6">l</tspan><tspan dx="9">,</tspan>5</text><path d="M73.0,-71 L59.0,-56" stroke="#2b2b2b" stroke-width="8" fill="none"/></g>
<ellipse cx="851.8" cy="714.2" rx="4.4" ry="4.4" fill="none" stroke="#2b2b2b" stroke-width="0.9"/>
<line x1="857" y1="715.8" x2="846.6" y2="712.4" stroke="#2b2b2b" stroke-width="0.9"/>
<g transform="translate(857,708.31) rotate(-90) scale(0.1419,0.1400)"><text font-size="100" fill="#2b2b2b">23/28</text></g>
<g transform="translate(917,709.04) rotate(-90) scale(0.1278,0.1429)"><text font-size="100" fill="#2b2b2b">250</text></g>
<g transform="translate(658.14,774) scale(0.1327,0.1286)"><text font-size="100" fill="#2b2b2b">92</text></g>
<g transform="translate(659.61,905) scale(0.1376,0.1257)"><text font-size="100" fill="#2b2b2b"><tspan dx="0">l</tspan><tspan dx="9">4</tspan>5</text><path d="M12.0,-71 L-2.0,-56" stroke="#2b2b2b" stroke-width="8" fill="none"/></g>
<g transform="translate(659.61,928.4) scale(0.1376,0.1257)"><text font-size="100" fill="#2b2b2b"><tspan dx="0">l</tspan><tspan dx="9">5</tspan>8</text><path d="M12.0,-71 L-2.0,-56" stroke="#2b2b2b" stroke-width="8" fill="none"/></g>
<g transform="translate(765.5,956.8) scale(0.1262,0.1200)"><text font-size="100" fill="#2b2b2b">50</text></g>
</g>
</svg>
</body></html>
